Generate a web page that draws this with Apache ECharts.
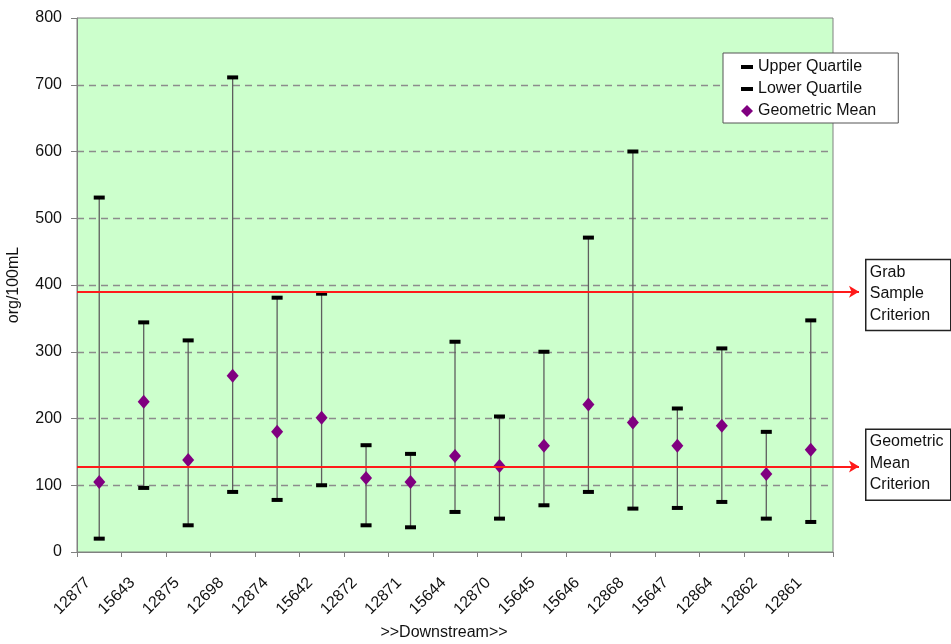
<!DOCTYPE html>
<html>
<head>
<meta charset="utf-8">
<script src="https://cdn.jsdelivr.net/npm/echarts@6/dist/echarts.min.js"></script>
<style>
  html, body { margin: 0; padding: 0; background: #fff; }
  #chart { width: 951px; height: 644px; }
</style>
</head>
<body>
<div id="chart"></div>
<script>
// Monitoring sites, listed in downstream order
const sites = ['12877', '15643', '12875', '12698', '12874', '15642', '12872', '12871', '15644',
               '12870', '15645', '15646', '12868', '15647', '12864', '12862', '12861'];
// Bacteria counts (org/100mL)
const upperQuartile = [531, 344, 317, 711, 381, 387, 160, 147, 315, 203, 300, 471, 600, 215, 305, 180, 347];
const lowerQuartile = [20, 96, 40, 90, 78, 100, 40, 37, 60, 50, 70, 90, 65, 66, 75, 50, 45];
const geometricMean = [105, 225, 138, 264, 180, 201, 111, 105, 144, 129, 159, 221, 194, 159, 189, 117, 153];
// Regulatory criteria
const grabSampleCriterion = 390;
const geometricMeanCriterion = 128;
// Value axis
const yMin = 0, yMax = 800, yStep = 100;

const FONT = '"Liberation Sans", Arial, sans-serif';
const chart = echarts.init(document.getElementById('chart'), null, { renderer: 'canvas' });

const dashIcon = 'path://M0,0L0,0M0,6L12,6L12,10L0,10ZM0,16L0,16';
const diamondIcon = 'path://M6,2L12,8L6,14L0,8ZM0,0L0,0M0,16L0,16';

function criterionLine(v) {
  return [
    { yAxis: v, x: 77 },
    { yAxis: v, x: 859 }
  ];
}

chart.setOption({
  animation: false,
  backgroundColor: '#ffffff',
  grid: {
    left: 77, right: 118, top: 18, bottom: 92,
    outerBoundsMode: 'none', containLabel: false,
    show: true, backgroundColor: '#ccffcc', borderColor: '#808080', borderWidth: 1
  },
  legend: {
    orient: 'vertical', left: 723, top: 53,
    padding: [6, 22, 4, 18], itemGap: 6, itemWidth: 12, itemHeight: 16,
    backgroundColor: '#ffffff', borderColor: '#555', borderWidth: 1,
    selectedMode: false,
    textStyle: { fontFamily: FONT, fontSize: 16, color: '#111' },
    data: [
      { name: 'Upper Quartile', icon: dashIcon },
      { name: 'Lower Quartile', icon: dashIcon },
      { name: 'Geometric Mean', icon: diamondIcon }
    ]
  },
  xAxis: {
    type: 'category', data: sites, boundaryGap: true,
    name: '>>Downstream>>', nameLocation: 'middle', nameGap: 72,
    nameTextStyle: { fontFamily: FONT, fontSize: 16, color: '#111', padding: [0, 22, 0, 0] },
    axisLine: { lineStyle: { color: '#808080', width: 1 } },
    axisTick: { show: true, length: 5, lineStyle: { color: '#808080' } },
    axisLabel: { rotate: 45, margin: 17, padding: [0, 16, 0, 0], fontFamily: FONT, fontSize: 16, color: '#111', interval: 0 },
    splitLine: { show: false }
  },
  yAxis: {
    type: 'value', min: yMin, max: yMax, interval: yStep,
    name: 'org/100mL', nameLocation: 'middle', nameGap: 55, nameRotate: 90,
    nameTextStyle: { fontFamily: FONT, fontSize: 16, color: '#111' },
    axisLine: { show: true, lineStyle: { color: '#808080', width: 1 } },
    axisTick: { show: true, length: 6, lineStyle: { color: '#808080' } },
    axisLabel: { margin: 15, fontFamily: FONT, fontSize: 16, color: '#111' },
    splitLine: { show: true, showMinLine: false, showMaxLine: false,
      lineStyle: { color: '#8c8c8c', type: [7, 5], width: 1.3 } }
  },
  series: [
    {
      type: 'custom',
      name: 'range',
      clip: false,
      silent: true,
      z: 1,
      data: sites.map((s, i) => [i, lowerQuartile[i], upperQuartile[i]]),
      encode: { x: 0, y: [1, 2] },
      renderItem(params, api) {
        const lo = api.coord([api.value(0), api.value(1)]);
        const hi = api.coord([api.value(0), api.value(2)]);
        return {
          type: 'line',
          shape: { x1: lo[0], y1: lo[1], x2: hi[0], y2: hi[1] },
          style: { stroke: '#5e5e5e', lineWidth: 1.3 }
        };
      },
      markLine: {
        silent: true,
        symbol: ['none', 'arrow'],
        symbolSize: [9, 10],
        label: { show: false },
        lineStyle: { color: '#ff1a1a', width: 2, type: 'solid' },
        emphasis: { disabled: true },
        data: [criterionLine(grabSampleCriterion), criterionLine(geometricMeanCriterion)]
      }
    },
    {
      type: 'scatter', name: 'Upper Quartile', data: upperQuartile,
      symbol: 'rect', symbolSize: [11, 4], z: 3, silent: true,
      itemStyle: { color: '#000000', opacity: 1 }
    },
    {
      type: 'scatter', name: 'Lower Quartile', data: lowerQuartile,
      symbol: 'rect', symbolSize: [11, 4], z: 3, silent: true,
      itemStyle: { color: '#000000', opacity: 1 }
    },
    {
      type: 'scatter', name: 'Geometric Mean', data: geometricMean,
      symbol: 'diamond', symbolSize: [12, 14], z: 4, silent: true,
      itemStyle: { color: '#800080', opacity: 1 }
    }
  ]
});

// Text boxes naming each criterion line, anchored to the line's value
function note(text, top) {
  return {
    type: 'group', left: 865, top: top,
    children: [
      { type: 'rect', shape: { x: 0, y: 0, width: 85, height: 71 },
        style: { fill: '#ffffff', stroke: '#222', lineWidth: 1.5 } },
      { type: 'text', x: 4, y: 2,
        style: { text: text, font: '16px ' + FONT, fill: '#111', lineHeight: 21.5 } }
    ]
  };
}
const yGrab = chart.convertToPixel({ yAxisIndex: 0 }, grabSampleCriterion);
const yGeo = chart.convertToPixel({ yAxisIndex: 0 }, geometricMeanCriterion);
chart.setOption({
  graphic: [
    note('Grab\nSample\nCriterion', yGrab - 33),
    note('Geometric\nMean\nCriterion', yGeo - 38)
  ]
});
</script>
</body>
</html>
